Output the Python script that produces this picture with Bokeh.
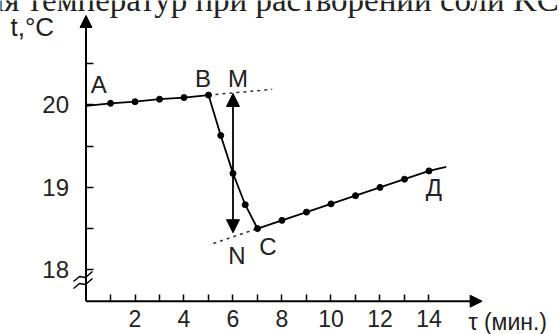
from bokeh.plotting import figure
from bokeh.models import Range1d, LinearAxis, FixedTicker, Arrow, NormalHead, Label
from bokeh.embed import file_html
from bokeh.resources import INLINE

# --- data ---
time_ab = [0, 1, 2, 3, 4, 5]
temp_ab = [19.99, 20.02, 20.04, 20.07, 20.09, 20.12]
time_bc = [5, 5.5, 6, 6.5, 7]
temp_bc = [20.12, 19.63, 19.17, 18.79, 18.50]
time_cd = [7, 8, 9, 10, 11, 12, 13, 14, 14.7]
temp_cd = [18.50, 18.60, 18.70, 18.80, 18.90, 19.00, 19.10, 19.20, 19.25]
dot_time = [1, 2, 3, 4, 5, 5.5, 6, 6.5, 7, 8, 9, 10, 11, 12, 13, 14]
dot_temp = [20.02, 20.04, 20.07, 20.09, 20.12, 19.63, 19.17, 18.79, 18.50,
            18.60, 18.70, 18.80, 18.90, 19.00, 19.10, 19.20]
ext_ab_time = [5, 7.6]
ext_ab_temp = [20.12, 20.19]
ext_cd_time = [5.2, 7]
ext_cd_temp = [18.32, 18.50]
mn_time = 6
mn_temp = [18.45, 20.14]

x_ticks = list(range(1, 15))
x_tick_labels = {i: (str(i) if i % 2 == 0 else "") for i in x_ticks}
y_ticks = [18, 18.5, 19, 19.5, 20, 20.5]
y_tick_labels = {18: "18", 18.5: "", 19: "19", 19.5: "", 20: "20", 20.5: ""}

title_text = "ия температур при растворении соли KCl"
y_title = "t,°C"
x_title = "τ (мин.)"

X0, X1 = -3.49, 19.327
Y0, Y1 = 17.215, 21.268
X_AXIS_T = 17.619
X_ARROW_END = 16.17
Y_ARROW_END = 21.086

p = figure(width=559, height=334, x_range=Range1d(X0, X1), y_range=Range1d(Y0, Y1),
           output_backend="svg", toolbar_location=None, x_axis_type=None, y_axis_type=None,
           min_border=0, outline_line_color=None)
p.xgrid.visible = False
p.ygrid.visible = False

FONT = "Liberation Sans"
FS = "24px"
TXT = "#222222"

xaxis = LinearAxis(fixed_location=X_AXIS_T, ticker=FixedTicker(ticks=x_ticks),
                   major_label_overrides=x_tick_labels, axis_line_color=None,
                   major_tick_in=7, major_tick_out=0, major_tick_line_width=1.5,
                   minor_tick_line_color=None, major_label_text_font=FONT,
                   major_label_text_font_size="23px", major_label_standoff=9,
                   major_label_text_color=TXT)
p.add_layout(xaxis, "below")
yaxis = LinearAxis(fixed_location=0, ticker=FixedTicker(ticks=y_ticks),
                   major_label_overrides=y_tick_labels, axis_line_color=None,
                   major_tick_in=7, major_tick_out=0, major_tick_line_width=1.5,
                   minor_tick_line_color=None, major_label_text_font=FONT,
                   major_label_text_font_size=FS, major_label_standoff=17,
                   major_label_text_color=TXT)
p.add_layout(yaxis, "left")

# axes as arrows
p.add_layout(Arrow(end=NormalHead(size=12, fill_color="black", line_color="black"),
                   x_start=0, y_start=X_AXIS_T, x_end=X_ARROW_END, y_end=X_AXIS_T,
                   line_width=2, line_color="black"))
p.add_layout(Arrow(end=NormalHead(size=12, fill_color="black", line_color="black"),
                   x_start=0, y_start=X_AXIS_T, x_end=0, y_end=Y_ARROW_END,
                   line_width=2, line_color="black"))

# axis break marks
for d in (0.0, -0.085):
    p.line([-0.51, -0.265, -0.02, 0.265], [17.858 + d, 17.919 + d, 17.907 + d, 17.980 + d],
           line_color="black", line_width=1.5)

# curve
p.line(time_ab, temp_ab, line_color="black", line_width=1.8)
p.line(time_bc, temp_bc, line_color="black", line_width=1.8)
p.line(time_cd, temp_cd, line_color="black", line_width=1.8)
p.line(ext_ab_time, ext_ab_temp, line_color="#333333", line_width=1.5, line_dash="3 4")
p.line(ext_cd_time, ext_cd_temp, line_color="#333333", line_width=1.5, line_dash="3 4")
p.scatter(dot_time, dot_temp, size=6, fill_color="black", line_color="black")

# M-N double arrow
p.add_layout(Arrow(start=NormalHead(size=13, fill_color="black", line_color="black"),
                   end=NormalHead(size=13, fill_color="black", line_color="black"),
                   x_start=mn_time, y_start=mn_temp[0], x_end=mn_time, y_end=mn_temp[1],
                   line_width=1.8, line_color="black"))

def lab(txt, x, y, align="center", font=FONT, size=FS, xo=0, yo=0):
    p.add_layout(Label(x=x, y=y, text=txt, text_align=align, text_baseline="middle",
                       text_font=font, text_font_size=size, text_color=TXT,
                       x_offset=xo, y_offset=yo))

lab("A", 0.52, 20.249)
lab("B", 4.78, 20.318)
lab("M", 6.20, 20.318)
lab("N", 6.16, 18.174)
lab("C", 7.43, 18.283)
lab("Д", 14.20, 18.993)
lab(y_title, X0, 20.944, align="left", size="26px", xo=10)
lab(x_title, 15.61, 17.324, align="left", size="23px", yo=4)
lab(title_text, X0, 21.255, align="left", font="Liberation Serif", size="33px", xo=-14, yo=2)

open("out.html", "w").write(file_html(p, INLINE))
